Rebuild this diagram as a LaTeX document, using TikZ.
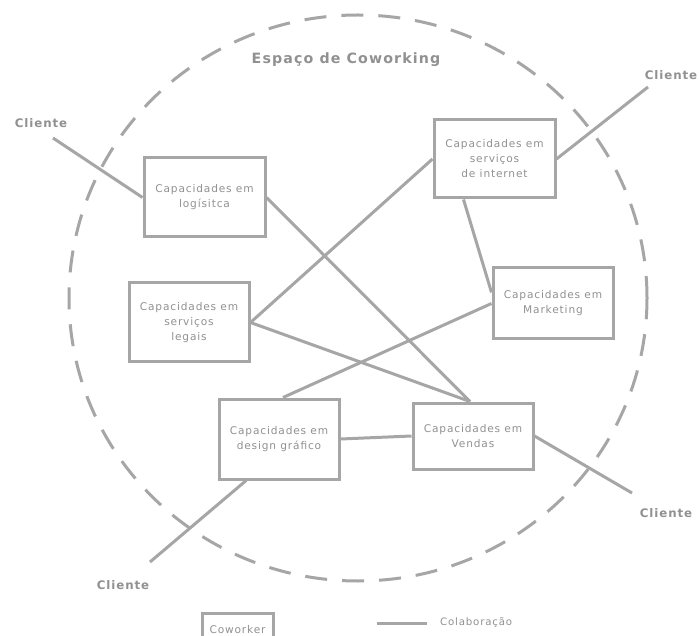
\documentclass[tikz,border=0pt]{standalone}
\usepackage{fontspec}
\setmainfont{DejaVu Sans}[LetterSpace=8]
\usetikzlibrary{calc}
\definecolor{lc}{RGB}{166,166,166}
\definecolor{tc}{RGB}{145,145,145}
\begin{document}
\begin{tikzpicture}[x=1pt,y=-1pt,
  box/.style={draw=lc,line width=3pt,inner sep=0pt,align=center,text=tc,font=\fontsize{10.6}{15}\selectfont},
  conn/.style={draw=lc,line width=3pt},
  client/.style={text=tc,font=\bfseries\fontsize{11.8}{13}\selectfont,inner sep=0pt},
  legtext/.style={text=tc,font=\fontsize{10.2}{12}\selectfont,inner sep=0pt},
  ring/.style={draw=lc,line width=3pt,dash pattern=on 22pt off 15pt}]
\useasboundingbox (0,0) rectangle (699,636);
\fill[white] (0,0) rectangle (699,636);
\draw[ring] (358,298) ellipse [x radius=289pt, y radius=283pt];
\node[text=tc,font=\bfseries\fontsize{14.2}{16}\selectfont,inner sep=0pt] (title) at (346,60) {Espaço de Coworking};
% boxes
\node[box,minimum width=121pt,minimum height=79pt] (log) at (204.5,197.5) {Capacidades em\\logísitca};
\node[box,minimum width=120pt,minimum height=79pt] (leg) at (189,322.5) {Capacidades em\\serviços\\legais};
\node[box,minimum width=121pt,minimum height=78pt] (int) at (494.5,159) {Capacidades em\\serviços\\de internet};
\node[box,minimum width=120pt,minimum height=71pt] (mkt) at (553,303.5) {Capacidades em\\Marketing};
\node[box,minimum width=120pt,minimum height=80pt] (des) at (279,439) {Capacidades em\\design gráfico};
\node[box,minimum width=120pt,minimum height=66pt] (ven) at (473,436) {Capacidades em\\Vendas};
% clients
\coordinate (c1) at (53,138);
\coordinate (c2) at (648,87);
\coordinate (c3) at (632,493);
\coordinate (c4) at (150,562);
\node[client] (l1) at (41,123) {Cliente};
\node[client] (l2) at (671,75) {Cliente};
\node[client] (l3) at (666,513) {Cliente};
\node[client] (l4) at (123,585) {Cliente};
% connectors
\draw[conn] (c1) -- (log.west);
\draw[conn] (log.east) -- ([xshift=-3pt]ven.north);
\draw[conn] (leg.east) -- (int.west);
\draw[conn] (leg.east) -- ([xshift=-3pt]ven.north);
\draw[conn] ($(int.south west)!0.25!(int.south east)$) -- ($(mkt.north west)!0.35!(mkt.south west)$);
\draw[conn] (mkt.west) -- ([xshift=4pt]des.north);
\draw[conn] (int.east) -- (c2);
\draw[conn] (des.east) -- (ven.west);
\draw[conn] (ven.east) -- (c3);
\draw[conn] ($(des.south west)!0.233!(des.south east)$) -- (c4);
% legend
\node[box,minimum width=71pt,minimum height=33pt,anchor=north] (cw) at (237.5,612) {Coworker};
\coordinate (la) at (377,623);
\coordinate (lb) at (427,623);
\draw[conn] (la) -- (lb);
\node[legtext,anchor=west] (lt) at (440,623) {Colaboração};
\end{tikzpicture}
\end{document}
